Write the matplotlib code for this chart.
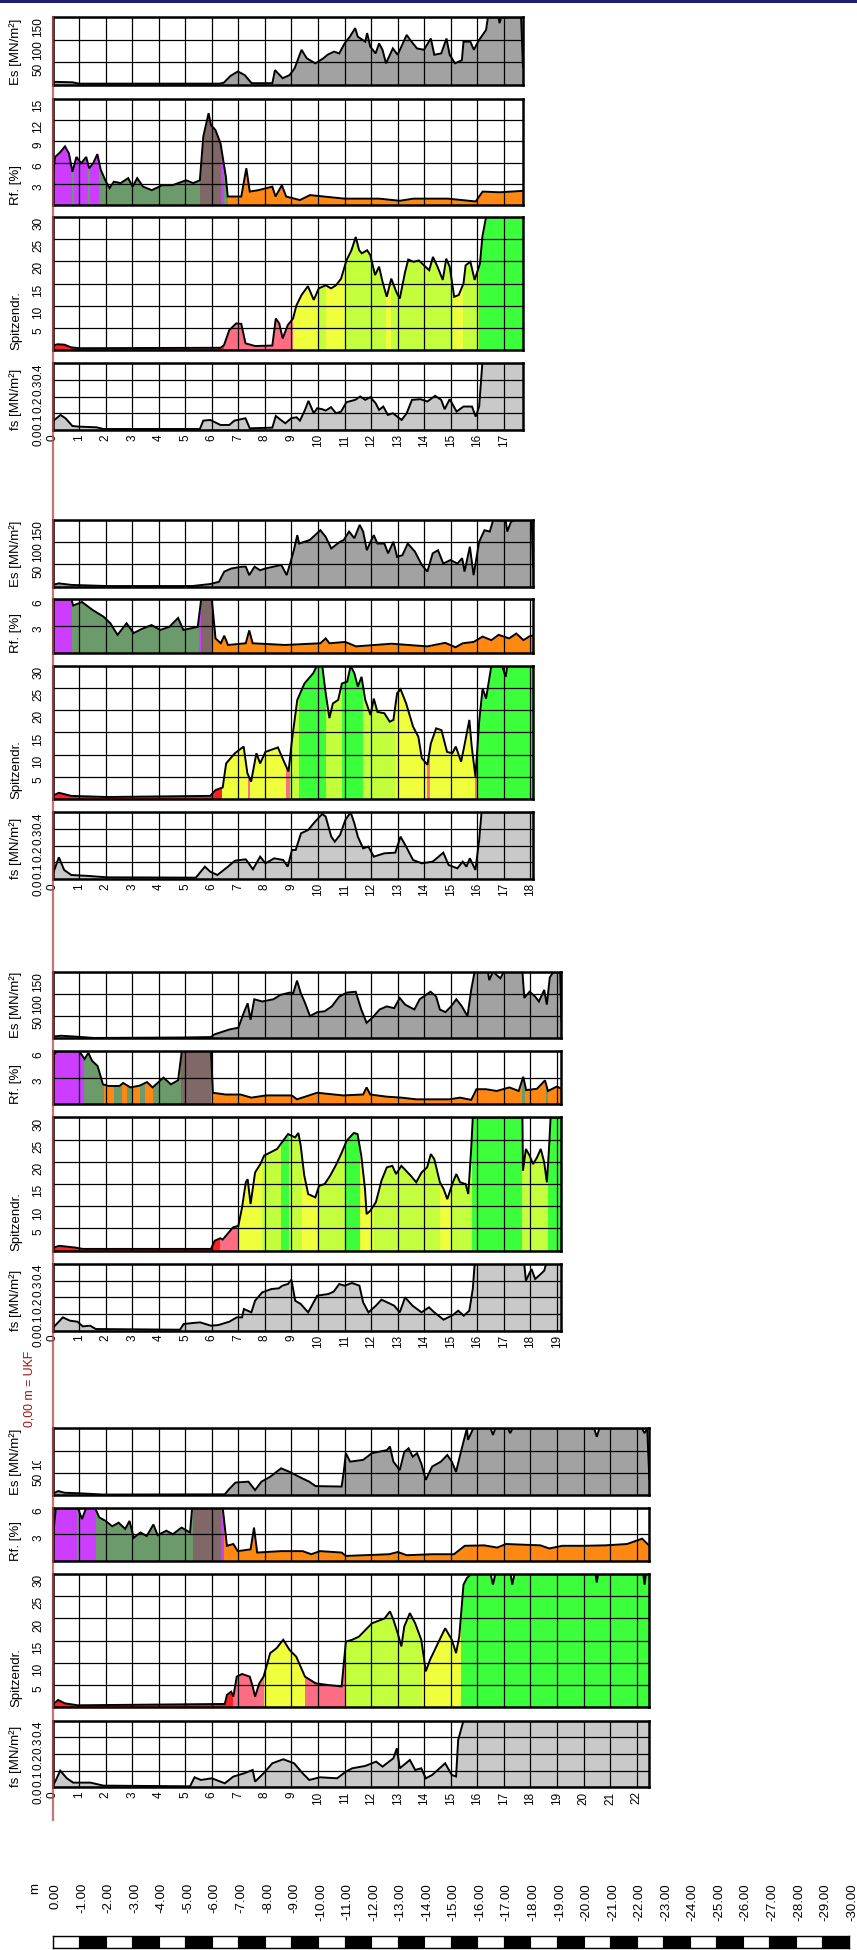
import numpy as np
import matplotlib.pyplot as plt
from matplotlib.patches import Rectangle
from matplotlib.lines import Line2D
import matplotlib.transforms as mtransforms

plt.rcParams['font.family'] = ['Liberation Sans', 'DejaVu Sans']

# ---------------- data (depth in m, value) ----------------
# sounding 1
s1_end = 17.72
s1_es = [(0, 4), (0.1, 7), (0.75, 6), (1.0, 3), (6.3, 3), (6.45, 5), (6.7, 20), (6.98, 30), (7.24, 22),
         (7.5, 4), (8.28, 4), (8.38, 33), (8.67, 15), (8.93, 22), (9.12, 37), (9.38, 78), (9.58, 59),
         (9.9, 48), (10.2, 59), (10.36, 67), (10.6, 74), (10.8, 70), (11.0, 92), (11.2, 107), (11.4, 126),
         (11.5, 107), (11.78, 96), (11.85, 115), (11.97, 85), (12.17, 70), (12.3, 92), (12.43, 78),
         (12.56, 48), (12.82, 81), (13.0, 67), (13.34, 111), (13.47, 100), (13.73, 81), (13.99, 78),
         (14.25, 103), (14.38, 67), (14.64, 70), (14.84, 103), (14.96, 67), (15.16, 48), (15.42, 55),
         (15.48, 96), (15.74, 96), (15.87, 78), (16.07, 100), (16.33, 122), (16.4, 150), (16.8, 150),
         (16.84, 137), (16.9, 150), (17.65, 150), (17.72, 40)]
s1_rf = [(0, 4.2), (0.1, 6.8), (0.3, 7.5), (0.47, 8.3), (0.62, 7.3), (0.75, 4.7), (0.9, 6.8), (1.08, 5.9),
         (1.27, 6.8), (1.38, 5.2), (1.53, 5.9), (1.69, 7.2), (1.82, 4.95), (1.99, 3.5), (2.15, 2.4),
         (2.31, 3.3), (2.57, 3.1), (2.85, 3.8), (3.02, 2.6), (3.19, 3.8), (3.41, 2.6), (3.74, 2.1),
         (4.13, 2.8), (4.52, 2.8), (5.03, 3.5), (5.3, 3.1), (5.55, 3.5), (5.68, 9.7), (5.88, 13.0),
         (5.97, 11.3), (6.14, 10.6), (6.33, 8.7), (6.53, 4.0), (6.6, 1.2), (7.11, 1.2), (7.3, 5.2),
         (7.43, 1.9), (7.76, 2.1), (8.28, 2.6), (8.4, 1.2), (8.64, 2.8), (8.8, 1.2), (9.32, 0.7),
         (9.7, 1.4), (11.0, 0.9), (12.3, 0.9), (13.08, 0.6), (13.6, 0.9), (14.9, 0.9), (15.94, 0.5),
         (16.2, 1.9), (16.84, 1.8), (17.72, 2.0)]
s1_qc = [(0, 1.0), (0.2, 1.3), (0.45, 1.2), (0.7, 0.6), (1.0, 0.4), (6.33, 0.5), (6.46, 1.1), (6.66, 4.5),
         (6.92, 6.0), (7.11, 5.9), (7.27, 1.5), (7.63, 0.9), (8.28, 1.0), (8.41, 7.1), (8.54, 6.0),
         (8.67, 2.6), (8.86, 5.6), (9.06, 7.1), (9.19, 10.1), (9.38, 12.4), (9.62, 14.4), (9.84, 11.3),
         (10.03, 13.9), (10.29, 14.6), (10.49, 13.9), (10.68, 14.6), (10.87, 16.1), (11.07, 20.2),
         (11.26, 22.5), (11.42, 25.5), (11.55, 22.5), (11.65, 21.8), (11.85, 22.5), (11.97, 21.4),
         (12.15, 16.9), (12.3, 18.8), (12.43, 15.4), (12.59, 12.0), (12.76, 16.1), (12.95, 13.1),
         (13.08, 11.6), (13.28, 17.6), (13.4, 20.4), (13.6, 19.9), (13.8, 20.2), (13.99, 19.1),
         (14.19, 18.0), (14.33, 21.0), (14.5, 18.8), (14.7, 15.8), (14.83, 20.6), (14.96, 18.8),
         (15.13, 12.0), (15.3, 12.4), (15.48, 15.0), (15.56, 19.1), (15.74, 19.9), (15.9, 15.8),
         (16.1, 19.5), (16.19, 25.5), (16.33, 30), (17.72, 30)]
s1_fs = [(0, 0.05), (0.3, 0.09), (0.49, 0.07), (0.75, 0.024), (1.01, 0.02), (1.66, 0.016), (1.92, 0.006),
         (5.55, 0.006), (5.68, 0.056), (5.94, 0.06), (6.33, 0.03), (6.66, 0.03), (6.85, 0.056),
         (7.27, 0.07), (7.43, 0.01), (8.28, 0.014), (8.41, 0.084), (8.6, 0.06), (8.77, 0.04), (8.99, 0.07),
         (9.19, 0.076), (9.32, 0.056), (9.51, 0.12), (9.64, 0.174), (9.84, 0.1), (9.97, 0.13),
         (10.16, 0.124), (10.29, 0.116), (10.49, 0.136), (10.68, 0.1), (10.87, 0.11), (11.07, 0.166),
         (11.4, 0.18), (11.59, 0.2), (11.78, 0.18), (11.97, 0.196), (12.17, 0.16), (12.3, 0.12),
         (12.46, 0.14), (12.63, 0.09), (12.82, 0.1), (13.15, 0.06), (13.34, 0.1), (13.54, 0.18),
         (13.86, 0.184), (14.12, 0.17), (14.41, 0.204), (14.64, 0.18), (14.77, 0.124), (14.96, 0.184),
         (15.22, 0.11), (15.48, 0.14), (15.8, 0.14), (15.94, 0.08), (16.07, 0.14), (16.19, 0.4), (17.72, 0.4)]
s1_rf_zones = [(0, 0.72, 'm'), (0.72, 0.8, 'gr'), (0.8, 1.35, 'm'), (1.35, 1.42, 'gr'), (1.42, 1.75, 'm'),
               (1.75, 5.55, 'gr'), (5.55, 6.35, 'b'), (6.35, 6.45, 'm'), (6.45, 6.6, 'gr'), (6.6, 17.72, 'o')]
s1_qc_zones = [(0, 6.45, 'r'), (6.45, 9.05, 'p'), (9.05, 10.0, 'y'), (10.0, 10.3, 'yg'), (10.3, 11.0, 'y'),
               (11.0, 12.55, 'yg'), (12.55, 12.75, 'y'), (12.75, 15.1, 'yg'), (15.1, 15.45, 'y'),
               (15.45, 16.05, 'yg'), (16.05, 17.72, 'g')]

# sounding 2
s2_end = 18.1
s2_es = [(0, 4), (0.24, 7.5), (0.71, 4), (2.05, 1.5), (5.27, 1.5), (5.94, 6), (6.27, 11), (6.47, 34),
         (6.74, 41), (7.14, 45), (7.28, 45), (7.41, 26), (7.61, 45), (7.82, 37), (8.02, 41), (8.62, 49),
         (8.82, 26), (8.95, 52), (9.09, 82), (9.22, 116), (9.29, 97), (9.69, 105), (10.09, 127),
         (10.29, 112), (10.5, 86), (10.83, 101), (10.97, 105), (11.17, 124), (11.37, 109), (11.57, 139),
         (11.7, 124), (11.84, 82), (11.98, 101), (12.1, 116), (12.24, 97), (12.5, 97), (12.64, 75),
         (12.84, 101), (12.98, 67), (13.18, 71), (13.38, 97), (13.65, 79), (13.91, 49), (14.12, 34),
         (14.32, 75), (14.52, 82), (14.72, 52), (14.99, 60), (15.25, 52), (15.43, 64), (15.52, 34),
         (15.72, 90), (15.86, 26), (16.07, 101), (16.27, 127), (16.47, 124), (16.6, 150), (17.07, 148),
         (17.13, 124), (17.27, 146), (17.4, 150), (18.05, 150), (18.1, 45)]
s2_rf = [(0, 4.8), (0.05, 6), (0.71, 6), (0.78, 5.3), (1.11, 5.7), (1.51, 4.8), (1.92, 4.05), (2.18, 3.3),
         (2.45, 2.0), (2.79, 3.3), (3.06, 2.2), (3.39, 2.7), (3.73, 3.1), (4.06, 2.55), (4.4, 2.9),
         (4.73, 3.9), (4.93, 2.55), (5.47, 2.9), (5.6, 6), (6.0, 6), (6.14, 1.6), (6.34, 1.05), (6.47, 1.9),
         (6.61, 0.86), (7.28, 1.05), (7.41, 2.5), (7.54, 1.05), (8.75, 0.86), (10.09, 1.05), (10.29, 1.6),
         (10.43, 1.05), (11.03, 1.2), (11.43, 0.7), (12.77, 1.0), (14.12, 0.7), (14.79, 1.1), (15.18, 0.6),
         (15.45, 1.05), (15.86, 1.2), (16.2, 1.8), (16.53, 1.4), (16.8, 2.0), (17.2, 1.6), (17.47, 2.15),
         (17.74, 1.4), (18.0, 1.9), (18.1, 1.9)]
s2_qc = [(0, 0.7), (0.24, 1.4), (0.71, 0.7), (2.05, 0.45), (5.94, 0.7), (6.14, 2.0), (6.41, 2.6), (6.54, 8.0),
         (6.87, 10.3), (7.2, 11.8), (7.34, 5.8), (7.48, 3.9), (7.68, 10.3), (7.82, 8.0), (8.02, 10.6),
         (8.49, 11.6), (8.75, 8.0), (8.89, 6.2), (9.02, 13.3), (9.22, 22.3), (9.49, 26.0), (9.82, 28.3),
         (9.96, 30), (10.16, 30), (10.29, 23.8), (10.43, 18.2), (10.56, 21.5), (10.76, 22.3), (10.9, 26.0),
         (11.1, 26.4), (11.23, 30), (11.37, 28.3), (11.5, 25.3), (11.64, 27.5), (11.78, 22.3), (11.98, 18.9),
         (12.1, 22.6), (12.24, 19.6), (12.5, 19.3), (12.7, 17.4), (12.84, 17.8), (12.98, 23.8), (13.11, 24.7),
         (13.32, 21.5), (13.58, 16.3), (13.78, 14.0), (13.91, 9.2), (14.12, 7.7), (14.25, 12.5), (14.45, 15.9),
         (14.65, 15.5), (14.86, 10.6), (15.06, 10.3), (15.19, 11.8), (15.39, 8.4), (15.52, 12.2), (15.7, 17.8),
         (15.79, 11.8), (15.93, 5.0), (16.07, 17.4), (16.2, 24.9), (16.33, 22.6), (16.53, 30), (16.93, 30),
         (17.07, 27.5), (17.13, 30), (18.1, 30)]
s2_fs = [(0, 0.024), (0.24, 0.13), (0.44, 0.054), (0.71, 0.024), (1.38, 0.018), (2.05, 0.01), (5.4, 0.008),
         (5.74, 0.074), (5.94, 0.044), (6.21, 0.024), (6.61, 0.074), (6.87, 0.11), (7.28, 0.118), (7.55, 0.058),
         (7.82, 0.134), (8.02, 0.094), (8.35, 0.124), (8.69, 0.114), (8.86, 0.074), (9.02, 0.174), (9.16, 0.174),
         (9.36, 0.274), (9.63, 0.294), (9.89, 0.344), (10.16, 0.39), (10.29, 0.374), (10.5, 0.254),
         (10.63, 0.224), (10.83, 0.264), (11.03, 0.354), (11.23, 0.4), (11.37, 0.334), (11.5, 0.254),
         (11.7, 0.184), (11.9, 0.194), (12.1, 0.134), (12.5, 0.154), (12.91, 0.158), (13.11, 0.254),
         (13.32, 0.194), (13.58, 0.114), (13.91, 0.094), (14.32, 0.104), (14.72, 0.158), (14.92, 0.084),
         (15.25, 0.064), (15.45, 0.104), (15.59, 0.074), (15.72, 0.124), (15.93, 0.054), (16.07, 0.234),
         (16.16, 0.4), (18.1, 0.4)]
s2_rf_zones = [(0, 0.75, 'm'), (0.75, 5.5, 'gr'), (5.5, 5.6, 'm'), (5.6, 6.05, 'b'), (6.05, 18.1, 'o')]
s2_qc_zones = [(0, 6.4, 'r'), (6.4, 7.35, 'y'), (7.35, 7.45, 'p'), (7.45, 8.8, 'y'), (8.8, 8.95, 'p'),
               (8.95, 9.3, 'yg'), (9.3, 10.3, 'g'), (10.3, 10.9, 'yg'), (10.9, 11.7, 'g'), (11.7, 12.9, 'yg'),
               (12.9, 14.1, 'y'), (14.1, 14.2, 'p'), (14.2, 15.9, 'y'), (15.9, 16.0, 'p'), (16.0, 18.1, 'g')]

# sounding 3
s3_end = 19.17
s3_es = [(0, 4), (0.32, 6), (0.87, 4), (1.56, 1), (4.87, 2), (5.97, 3), (6.1, 9), (6.66, 20), (7.0, 24),
         (7.2, 57), (7.35, 79), (7.46, 42), (7.6, 88), (7.9, 83), (8.32, 88), (8.59, 98), (8.94, 103),
         (9.07, 102), (9.21, 130), (9.35, 102), (9.49, 83), (9.7, 50), (9.97, 59), (10.25, 61), (10.52, 72),
         (10.8, 94), (11.08, 103), (11.42, 105), (11.63, 65), (11.83, 35), (12.04, 46), (12.32, 65),
         (12.59, 72), (12.87, 68), (13.08, 91), (13.28, 76), (13.63, 65), (13.83, 88), (14.24, 105),
         (14.45, 94), (14.59, 65), (14.8, 59), (15.01, 72), (15.21, 88), (15.42, 72), (15.63, 50),
         (15.77, 109), (15.9, 150), (16.4, 150), (16.45, 131), (16.59, 150), (16.87, 135), (17.0, 150),
         (17.7, 150), (17.77, 91), (17.97, 105), (18.18, 94), (18.32, 83), (18.52, 109), (18.62, 76),
         (18.73, 137), (18.87, 150), (19.12, 150), (19.17, 40)]
s3_rf = [(0, 3.0), (0.05, 5.6), (0.18, 6), (1.0, 6), (1.21, 5.1), (1.35, 5.8), (1.49, 4.9), (1.7, 4.3),
         (1.9, 2.25), (2.11, 2.06), (2.52, 2.06), (2.66, 2.4), (2.94, 1.9), (3.28, 2.1), (3.56, 2.5),
         (3.77, 1.9), (4.18, 3.0), (4.46, 2.25), (4.73, 2.7), (4.87, 6), (5.97, 6), (6.04, 1.3), (6.52, 1.1),
         (7.08, 1.1), (7.49, 0.75), (8.04, 1.0), (9.01, 1.0), (9.21, 0.56), (9.97, 1.3), (10.94, 1.0),
         (11.7, 1.1), (11.83, 1.9), (11.97, 1.1), (12.59, 0.86), (13.14, 0.75), (13.7, 0.56), (14.94, 0.56),
         (15.35, 0.75), (15.77, 0.5), (15.97, 1.7), (16.32, 1.7), (16.73, 1.5), (17.21, 1.9), (17.56, 1.5),
         (17.73, 3.1), (17.84, 1.6), (18.25, 1.75), (18.55, 2.7), (18.66, 1.5), (19.0, 2.0), (19.17, 1.75)]
s3_qc = [(0, 0.6), (0.25, 1.1), (0.87, 0.7), (1.14, 0.4), (5.97, 0.4), (6.11, 2.25), (6.32, 2.8), (6.41, 2.5),
         (6.8, 5.25), (7.0, 5.6), (7.14, 9.75), (7.28, 15.4), (7.35, 16.1), (7.46, 10.5), (7.63, 17.6),
         (7.83, 19.5), (7.97, 21.4), (8.46, 22.9), (8.87, 26.25), (9.14, 25.5), (9.26, 26.5), (9.35, 23.6),
         (9.48, 17.0), (9.63, 12.75), (9.9, 12.0), (10.04, 14.6), (10.25, 15.0), (10.46, 16.9), (10.66, 19.1),
         (10.87, 21.75), (11.08, 24.75), (11.35, 26.5), (11.49, 26.25), (11.63, 21.4), (11.77, 13.9),
         (11.83, 8.25), (11.97, 9.0), (12.18, 10.9), (12.39, 15.75), (12.59, 18.75), (12.8, 19.1),
         (12.94, 17.25), (13.14, 19.1), (13.49, 16.9), (13.7, 15.4), (13.9, 17.6), (14.11, 18.75),
         (14.25, 21.75), (14.38, 20.6), (14.59, 15.4), (14.73, 13.9), (14.87, 11.6), (15.08, 15.4),
         (15.21, 17.25), (15.35, 15.4), (15.56, 15.0), (15.66, 12.75), (15.77, 22.9), (15.83, 30), (17.7, 30),
         (17.72, 18), (17.83, 22.9), (17.97, 21.4), (18.1, 19.5), (18.25, 21), (18.39, 22.9), (18.52, 19.9),
         (18.62, 15.4), (18.7, 22.9), (18.76, 30), (19.17, 30)]
s3_fs = [(0, 0.014), (0.39, 0.08), (0.66, 0.06), (0.94, 0.054), (1.14, 0.026), (1.42, 0.03), (1.63, 0.01),
         (4.8, 0.006), (4.94, 0.04), (5.28, 0.046), (5.56, 0.05), (5.97, 0.03), (6.25, 0.034), (6.66, 0.054),
         (6.94, 0.08), (7.14, 0.08), (7.21, 0.13), (7.49, 0.11), (7.63, 0.18), (7.9, 0.23), (8.25, 0.25),
         (8.52, 0.254), (8.66, 0.27), (8.87, 0.28), (9.0, 0.306), (9.14, 0.18), (9.35, 0.16), (9.63, 0.11),
         (9.97, 0.21), (10.39, 0.22), (10.59, 0.234), (10.8, 0.28), (11.0, 0.27), (11.28, 0.286), (11.56, 0.27),
         (11.7, 0.17), (11.9, 0.11), (12.18, 0.15), (12.39, 0.186), (12.66, 0.166), (12.87, 0.15), (13.08, 0.11),
         (13.28, 0.2), (13.56, 0.15), (13.9, 0.11), (14.18, 0.14), (14.38, 0.11), (14.73, 0.066), (15.08, 0.094),
         (15.28, 0.12), (15.49, 0.09), (15.7, 0.12), (15.83, 0.25), (15.9, 0.4), (17.77, 0.4), (17.83, 0.3),
         (18.04, 0.37), (18.18, 0.31), (18.39, 0.34), (18.52, 0.36), (18.59, 0.4), (19.17, 0.4)]
s3_rf_zones = [(0, 0.05, 'gr'), (0.05, 1.2, 'm'), (1.2, 1.95, 'gr'), (1.95, 2.3, 'o'), (2.3, 2.6, 'gr'),
               (2.6, 2.8, 'o'), (2.8, 3.0, 'gr'), (3.0, 3.3, 'o'), (3.3, 3.5, 'gr'), (3.5, 3.8, 'o'),
               (3.8, 4.85, 'gr'), (4.85, 5.97, 'b'), (5.97, 17.7, 'o'), (17.7, 17.8, 'gr'), (17.8, 18.6, 'o'),
               (18.6, 18.68, 'gr'), (18.68, 19.17, 'o')]
s3_qc_zones = [(0, 6.3, 'r'), (6.3, 7.0, 'p'), (7.0, 7.9, 'y'), (7.9, 8.6, 'yg'), (8.6, 8.9, 'g'),
               (8.9, 9.4, 'yg'), (9.4, 9.95, 'y'), (9.95, 11.05, 'yg'), (11.05, 11.6, 'g'), (11.6, 12.1, 'y'),
               (12.1, 14.6, 'yg'), (14.6, 15.05, 'y'), (15.05, 15.8, 'yg'), (15.8, 17.7, 'g'),
               (17.7, 18.65, 'yg'), (18.65, 19.17, 'g')]

# sounding 4
s4_end = 22.48
s4_es = [(0, 2), (0.21, 9), (0.46, 5), (0.95, 4), (1.92, 1), (6.49, 1.5), (6.65, 13), (6.89, 28), (7.38, 30),
         (7.63, 11), (7.87, 30), (8.2, 41), (8.61, 60), (8.93, 52), (9.42, 37), (9.67, 30), (9.91, 20),
         (10.89, 19), (10.97, 52), (11.05, 94), (11.21, 75), (11.7, 79), (12.03, 94), (12.6, 101), (12.71, 109),
         (12.84, 75), (13.08, 56), (13.25, 97), (13.41, 105), (13.57, 86), (13.73, 94), (13.89, 71), (14.06, 34),
         (14.3, 64), (14.63, 75), (14.87, 90), (15.04, 75), (15.2, 52), (15.37, 94), (15.61, 150), (15.65, 124),
         (15.85, 150), (16.5, 150), (16.59, 135), (16.68, 150), (17.15, 150), (17.24, 139), (17.33, 150),
         (20.4, 150), (20.5, 131), (20.6, 150), (22.2, 150), (22.3, 139), (22.4, 150), (22.48, 35)]
s4_rf = [(0, 1.3), (0.05, 3.75), (0.13, 6), (0.95, 6), (1.11, 4.7), (1.27, 6), (1.6, 6), (1.76, 4.9), (2.0, 4.5),
         (2.25, 3.9), (2.49, 4.3), (2.74, 3.6), (2.9, 4.5), (3.06, 2.6), (3.31, 3.2), (3.55, 2.8), (3.8, 4.1),
         (3.96, 2.9), (4.29, 3.4), (4.53, 3.0), (4.86, 3.75), (5.18, 3.2), (5.26, 6), (6.41, 6), (6.57, 1.7),
         (6.81, 1.9), (6.98, 1.1), (7.46, 1.3), (7.59, 3.75), (7.71, 0.94), (8.61, 1.1), (9.42, 1.1),
         (9.75, 0.75), (10.07, 1.1), (10.89, 0.94), (11.05, 0.56), (12.68, 0.75), (13.01, 1.0), (13.34, 0.64),
         (14.3, 0.75), (15.12, 0.75), (15.53, 1.7), (16.26, 1.75), (16.75, 1.5), (17.08, 1.9), (18.38, 1.75),
         (18.71, 1.4), (19.2, 1.7), (20.01, 1.7), (20.82, 1.75), (21.64, 1.9), (22.21, 2.5), (22.48, 1.7)]
s4_qc = [(0, 0.5), (0.21, 1.65), (0.46, 0.9), (0.95, 0.45), (6.49, 0.75), (6.57, 2.8), (6.73, 3.5), (6.81, 2.4),
         (6.94, 6.9), (7.14, 7.5), (7.43, 6.9), (7.54, 4.7), (7.63, 2.4), (7.79, 5.4), (7.95, 6.9), (8.2, 12.2),
         (8.44, 13.3), (8.69, 15.2), (8.93, 12.9), (9.18, 11.4), (9.51, 6.9), (9.91, 5.4), (10.4, 5.0),
         (10.89, 4.7), (11.05, 14.8), (11.29, 15.2), (11.54, 15.9), (12.03, 18.9), (12.51, 20.0), (12.71, 21.6),
         (12.84, 19.7), (13.0, 16.7), (13.14, 13.7), (13.25, 18.2), (13.46, 21.2), (13.66, 18.9), (13.89, 15.2),
         (14.06, 8.1), (14.22, 10.7), (14.46, 13.7), (14.79, 17.8), (15.04, 15.2), (15.2, 12.2), (15.32, 15.9),
         (15.48, 27.6), (15.61, 29.1), (15.77, 30), (16.5, 30), (16.59, 27.6), (16.68, 30), (17.25, 30),
         (17.32, 27.6), (17.4, 30), (20.45, 30), (20.5, 28.1), (20.55, 30), (22.25, 30), (22.3, 27.6),
         (22.35, 30), (22.48, 30)]
s4_fs = [(0, 0.004), (0.13, 0.044), (0.29, 0.1), (0.54, 0.054), (0.78, 0.028), (1.43, 0.028), (1.92, 0.01),
         (5.18, 0.006), (5.35, 0.06), (5.59, 0.044), (6.0, 0.054), (6.49, 0.024), (6.81, 0.064), (7.22, 0.084),
         (7.54, 0.104), (7.63, 0.034), (7.95, 0.084), (8.28, 0.144), (8.69, 0.168), (9.1, 0.144), (9.42, 0.084),
         (9.67, 0.044), (10.07, 0.06), (10.72, 0.054), (11.05, 0.094), (11.29, 0.114), (11.78, 0.128),
         (12.19, 0.154), (12.43, 0.124), (12.84, 0.174), (12.97, 0.234), (13.08, 0.114), (13.46, 0.164),
         (13.66, 0.104), (13.89, 0.114), (14.06, 0.054), (14.3, 0.074), (14.79, 0.144), (15.04, 0.074),
         (15.2, 0.065), (15.28, 0.284), (15.48, 0.4), (22.48, 0.4)]
s4_rf_zones = [(0, 0.05, 'o'), (0.05, 0.93, 'm'), (0.93, 1.0, 'gr'), (1.0, 1.65, 'm'), (1.65, 5.3, 'gr'),
               (5.3, 6.35, 'b'), (6.35, 6.45, 'm'), (6.45, 22.48, 'o')]
s4_qc_zones = [(0, 6.8, 'r'), (6.8, 7.95, 'p'), (7.95, 9.5, 'y'), (9.5, 11.0, 'p'), (11.0, 13.0, 'yg'),
               (13.0, 13.9, 'yg'), (13.9, 15.4, 'y'), (15.4, 22.48, 'g')]

soundings = [
    (s1_end, s1_es, s1_rf, s1_qc, s1_fs, s1_rf_zones, s1_qc_zones, 15),
    (s2_end, s2_es, s2_rf, s2_qc, s2_fs, s2_rf_zones, s2_qc_zones, 6),
    (s3_end, s3_es, s3_rf, s3_qc, s3_fs, s3_rf_zones, s3_qc_zones, 6),
    (s4_end, s4_es, s4_rf, s4_qc, s4_fs, s4_rf_zones, s4_qc_zones, 6),
]
scale_metres = list(range(0, 31))

# ---------------- styles / layout ----------------
rf_colors = {'m': '#cc3dff', 'gr': '#6b9b6b', 'b': '#806868', 'o': '#ff8812'}
qc_colors = {'r': '#ff1f1f', 'p': '#ff6d84', 'y': '#f0ff3c', 'yg': '#c3ff3c', 'g': '#3cff3c'}
es_color = '#a2a2a2'
fs_color = '#c9c9c9'

W, H = 857, 1950
X0 = 52.5          # px of depth 0
PXM = 26.55        # px per metre
group_tops = [17.3, 520, 971.7, 1428.3]
offs_first = [0, 81.7, 199.7, 345.7]
hts_first = [67.7, 106, 133, 67]
offs_other = [0, 79.3, 145.7, 292.3]
hts_other = [66.7, 53.3, 133.3, 66.7]

fig = plt.figure(figsize=(W / 100, H / 100), dpi=100)


def px_axes(left, top, width, height):
    return fig.add_axes([left / W, 1 - (top + height) / H, width / W, height / H])


def draw_series(ax, pairs, zones, colors, ymax):
    d = np.array([p[0] for p in pairs])
    v = np.array([p[1] for p in pairs])
    for a, b, cls in zones:
        coll = ax.fill_between(d, 0, v, color=colors[cls], lw=0, zorder=1)
        coll.set_clip_path(Rectangle((a, 0), b - a, ymax, transform=ax.transData))
    ax.plot(d, v, color='black', lw=1.4, zorder=3, solid_joinstyle='miter')


labels = ['Es [MN/m²]', 'Rf. [%]', 'Spitzendr.', 'fs [MN/m²]']

for gi, (end, es, rf, qc, fs, rfz, qcz, rfmax) in enumerate(soundings):
    offs = offs_first if gi == 0 else offs_other
    hts = hts_first if gi == 0 else hts_other
    top0 = group_tops[gi]
    rf_ticks = [3, 6, 9, 12, 15] if rfmax == 15 else [3, 6]
    specs = [
        (es, [(0, end, 'e')], {'e': es_color}, 150, [50, 100, 150], ['50', '100', '150']),
        (rf, rfz, rf_colors, rfmax, rf_ticks, [str(t) for t in rf_ticks]),
        (qc, qcz, qc_colors, 30, [5, 10, 15, 20, 25, 30], ['5', '10', '15', '20', '25', '30']),
        (fs, [(0, end, 'f')], {'f': fs_color}, 0.4, [0, 0.1, 0.2, 0.3, 0.4], ['0.0', '0.1', '0.2', '0.3', '0.4']),
    ]
    for pi, (pairs, zones, cols, ymax, yt, ytl) in enumerate(specs):
        top = top0 + offs[pi]
        ax = px_axes(X0, top, end * PXM, hts[pi])
        draw_series(ax, pairs, zones, cols, ymax)
        ax.set_xlim(0, end)
        ax.set_ylim(0, ymax)
        ax.set_xticks(range(0, int(end) + 1))
        ax.set_yticks(yt)
        ax.set_yticklabels(ytl, rotation=90, va='top', fontsize=8.5)
        ax.tick_params(length=0)
        ax.tick_params(axis='y', pad=6)
        ax.grid(True, color='black', lw=0.9)
        ax.set_axisbelow(False)
        for sp in ax.spines.values():
            sp.set_linewidth(1.8)
            sp.set_zorder(4)
        if pi == 3:
            ax.set_xticklabels([str(t) for t in range(0, int(end) + 1)], rotation=90, fontsize=8.5)
            ax.tick_params(axis='x', pad=3)
        else:
            ax.tick_params(axis='x', labelbottom=False)
        fig.text(16 / W, 1 - (top + hts[pi]) / H, labels[pi], rotation=90,
                 ha='center', va='bottom', fontsize=9.5)

# depth scale bar at the bottom
sax = px_axes(X0, 1936, 30 * PXM, 12)
for m in scale_metres[:-1]:
    sax.bar(m, 1, width=1, align='edge', color='white' if m % 2 == 0 else 'black',
            edgecolor='black', lw=0.8)
sax.set_xlim(0, 30)
sax.set_ylim(0, 1)
sax.set_xticks([])
sax.set_yticks([])
for sp in sax.spines.values():
    sp.set_linewidth(1.0)
lab_tr = mtransforms.blended_transform_factory(sax.transData, fig.transFigure) + \
    mtransforms.ScaledTranslation(3 / 100, 0, fig.dpi_scale_trans)
for m in scale_metres:
    sax.text(m, 1 - 1883 / H, f'{-m:.2f}', transform=lab_tr, rotation=90,
             ha='center', va='top', fontsize=9.5, clip_on=False)
fig.text(35 / W, 1 - 1883 / H, 'm', rotation=90, ha='center', va='top', fontsize=9.5)

# reference line (0,00 m = UKF)
fig.add_artist(Line2D([X0 / W, X0 / W], [1 - 17 / H, 1 - 1820 / H], transform=fig.transFigure,
                      color='#b04848', alpha=0.75, lw=1.6, zorder=10))
fig.add_artist(Rectangle((22 / W, 1 - 1461 / H), 25 / W, 111 / H, transform=fig.transFigure,
                         facecolor='white', edgecolor='none', zorder=9))
fig.text(29 / W, 1 - 1389 / H, '0,00 m = UKF', rotation=90, ha='center', va='center',
         fontsize=8.8, color='#a01010', zorder=11)

# dark top strip
fig.add_artist(Rectangle((0, 1 - 3 / H), 1, 3 / H, transform=fig.transFigure,
                         facecolor='#1e1e78', edgecolor='none', zorder=12))

fig.savefig('out.png', dpi=100)
